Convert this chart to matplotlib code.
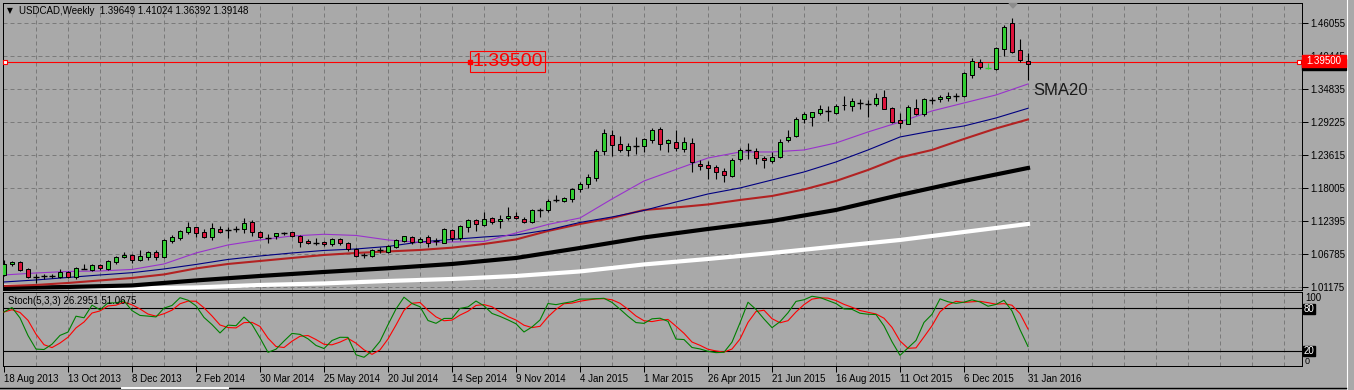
import numpy as np
import pandas as pd
import matplotlib
matplotlib.use("Agg")
import matplotlib.pyplot as plt
from matplotlib.patches import Rectangle, Polygon
from matplotlib.lines import Line2D

plt.rcParams['font.family'] = ['Liberation Sans', 'DejaVu Sans']

##weekly USDCAD candles, 18 Aug 2013 .. 31 Jan 2016
opens = [1.0322, 1.0509, 1.0543, 1.0424, 1.0288, 1.0305, 1.0305, 1.0288, 1.0373, 1.0288,
         1.0424, 1.0407, 1.0492, 1.0424, 1.0543, 1.0628, 1.0662, 1.0577, 1.0628, 1.0713,
         1.0628, 1.0900, 1.0951, 1.1053, 1.1138, 1.1053, 1.0968, 1.1104, 1.1087, 1.1100,
         1.1104, 1.1223, 1.1053, 1.0951, 1.0985, 1.1036, 1.1053, 1.0985, 1.0900, 1.0866,
         1.0883, 1.0849, 1.0934, 1.0866, 1.0764, 1.0662, 1.0645, 1.0747, 1.0713, 1.0798,
         1.0900, 1.0968, 1.0883, 1.0968, 1.0900, 1.0866, 1.1087, 1.0951, 1.1138, 1.1257,
         1.1172, 1.1291, 1.1240, 1.1291, 1.1325, 1.1274, 1.1223, 1.1427, 1.1427, 1.1597,
         1.1580, 1.1614, 1.1784, 1.1869, 1.1971, 1.2430, 1.2702, 1.2549, 1.2447, 1.2515,
         1.2515, 1.2617, 1.2804, 1.2566, 1.2583, 1.2464, 1.2566, 1.2209, 1.2192, 1.2158,
         1.2090, 1.2005, 1.2294, 1.2447, 1.2430, 1.2311, 1.2260, 1.2328, 1.2617, 1.2685,
         1.2974, 1.3008, 1.3076, 1.3110, 1.3076, 1.3212, 1.3195, 1.3246, 1.3229, 1.3229,
         1.3348, 1.3161, 1.2957, 1.2889, 1.3161, 1.3059, 1.3297, 1.3314, 1.3331, 1.3365,
         1.3365, 1.3722, 1.3943, 1.3841, 1.3824, 1.4164, 1.4606, 1.4147, 1.39649]
highs = [1.0577, 1.0560, 1.0560, 1.0441, 1.0339, 1.0339, 1.0339, 1.0424, 1.0390, 1.0450,
         1.0509, 1.0509, 1.0509, 1.0577, 1.0645, 1.0713, 1.0679, 1.0747, 1.0730, 1.0747,
         1.0934, 1.1002, 1.1087, 1.1223, 1.1145, 1.1104, 1.1206, 1.1155, 1.1138, 1.1155,
         1.1291, 1.1257, 1.1070, 1.1019, 1.1040, 1.1053, 1.1060, 1.1002, 1.0934, 1.0951,
         1.0900, 1.0951, 1.0951, 1.0883, 1.0781, 1.0696, 1.0764, 1.0798, 1.0832, 1.0934,
         1.0990, 1.0985, 1.0968, 1.1002, 1.0951, 1.1121, 1.1104, 1.1172, 1.1274, 1.1274,
         1.1393, 1.1308, 1.1342, 1.1478, 1.1393, 1.1308, 1.1444, 1.1461, 1.1614, 1.1682,
         1.1648, 1.1801, 1.1903, 1.2039, 1.2464, 1.2804, 1.2787, 1.2685, 1.2566, 1.2668,
         1.2651, 1.2821, 1.2838, 1.2634, 1.2787, 1.2668, 1.2651, 1.2277, 1.2260, 1.2192,
         1.2141, 1.2311, 1.2481, 1.2566, 1.2481, 1.2345, 1.2413, 1.2634, 1.2787, 1.3008,
         1.3093, 1.3100, 1.3212, 1.3195, 1.3229, 1.3365, 1.3331, 1.3314, 1.3297, 1.3416,
         1.3467, 1.3178, 1.3076, 1.3212, 1.3314, 1.3331, 1.3348, 1.3382, 1.3433, 1.3416,
         1.3773, 1.4011, 1.3994, 1.3926, 1.4190, 1.4572, 1.4691, 1.4334, 1.41024]
lows = [1.0305, 1.0475, 1.0390, 1.0271, 1.0186, 1.0254, 1.0271, 1.0271, 1.0271, 1.0254,
        1.0418, 1.0390, 1.0407, 1.0407, 1.0509, 1.0611, 1.0526, 1.0560, 1.0577, 1.0577,
        1.0611, 1.0866, 1.0917, 1.1019, 1.0968, 1.0951, 1.0917, 1.1036, 1.0951, 1.1053,
        1.1036, 1.0985, 1.0951, 1.0866, 1.0934, 1.1002, 1.0968, 1.0798, 1.0849, 1.0832,
        1.0815, 1.0815, 1.0832, 1.0730, 1.0628, 1.0611, 1.0628, 1.0696, 1.0696, 1.0781,
        1.0883, 1.0849, 1.0866, 1.0798, 1.0832, 1.0860, 1.0900, 1.0917, 1.1053, 1.1070,
        1.1155, 1.1189, 1.1121, 1.1257, 1.1274, 1.1206, 1.1206, 1.1308, 1.1393, 1.1563,
        1.1563, 1.1563, 1.1733, 1.1801, 1.1920, 1.2362, 1.2345, 1.2413, 1.2345, 1.2379,
        1.2413, 1.2566, 1.2447, 1.2413, 1.2430, 1.2413, 1.2073, 1.2107, 1.1954, 1.1954,
        1.1903, 1.1988, 1.2260, 1.2294, 1.2209, 1.2141, 1.2226, 1.2311, 1.2583, 1.2668,
        1.2906, 1.2855, 1.3042, 1.2940, 1.3059, 1.3127, 1.3110, 1.3144, 1.3008, 1.3195,
        1.3140, 1.2906, 1.2821, 1.2880, 1.3042, 1.3025, 1.3229, 1.3263, 1.3280, 1.3280,
        1.3348, 1.3671, 1.3824, 1.3824, 1.3807, 1.4045, 1.4096, 1.3943, 1.36392]
closes = [1.0509, 1.0543, 1.0407, 1.0288, 1.0290, 1.0305, 1.0303, 1.0373, 1.0288, 1.0441,
          1.0426, 1.0492, 1.0441, 1.0560, 1.0628, 1.0662, 1.0577, 1.0645, 1.0713, 1.0628,
          1.0917, 1.0968, 1.1070, 1.1138, 1.1036, 1.0968, 1.1121, 1.1053, 1.1087, 1.1104,
          1.1206, 1.1053, 1.0968, 1.0951, 1.1036, 1.1036, 1.0985, 1.0883, 1.0866, 1.0866,
          1.0849, 1.0934, 1.0866, 1.0764, 1.0645, 1.0662, 1.0747, 1.0747, 1.0815, 1.0917,
          1.0985, 1.0883, 1.0934, 1.0866, 1.0900, 1.1104, 1.0951, 1.1155, 1.1257, 1.1189,
          1.1274, 1.1223, 1.1274, 1.1325, 1.1291, 1.1223, 1.1427, 1.1427, 1.1580, 1.1597,
          1.1631, 1.1784, 1.1869, 1.1988, 1.2430, 1.2736, 1.2532, 1.2447, 1.2515, 1.2515,
          1.2634, 1.2787, 1.2549, 1.2617, 1.2481, 1.2583, 1.2243, 1.2175, 1.2141, 1.2073,
          1.2022, 1.2277, 1.2447, 1.2447, 1.2311, 1.2277, 1.2328, 1.2583, 1.2668, 1.2974,
          1.3059, 1.3093, 1.3144, 1.3110, 1.3195, 1.3205, 1.3280, 1.3246, 1.3229, 1.3331,
          1.3144, 1.2923, 1.2906, 1.3178, 1.3059, 1.3314, 1.3297, 1.3348, 1.3365, 1.3365,
          1.3756, 1.3960, 1.3858, 1.3841, 1.4181, 1.4538, 1.4113, 1.3977, 1.39148]
lime_bars = [123]

##moving averages read every 4th / 8th week
ma_idx = list(range(0, 129, 4))
ma20 = [1.0322, 1.0356, 1.0382, 1.0390, 1.0416, 1.0509, 1.0696, 1.0832, 1.0917, 1.0985, 1.1014,
        1.0994, 1.0917, 1.0875, 1.0883, 1.0892, 1.1036, 1.1181, 1.1291, 1.1614, 1.1920, 1.2116,
        1.2311, 1.2413, 1.2413, 1.2447, 1.2566, 1.2753, 1.2923, 1.3110, 1.3246, 1.3382, 1.3569]
ma_navy = [1.0203, 1.0237, 1.0280, 1.0322, 1.0361, 1.0424, 1.0501, 1.0586, 1.0645, 1.0696, 1.0739,
           1.0764, 1.0807, 1.0883, 1.0926, 1.0968, 1.1002, 1.1087, 1.1215, 1.1308, 1.1419, 1.1563,
           1.1699, 1.1801, 1.1937, 1.2073, 1.2243, 1.2447, 1.2668, 1.2770, 1.2855, 1.2991, 1.3156]
ma_red = [1.0135, 1.0152, 1.0186, 1.0229, 1.0271, 1.0331, 1.0433, 1.0509, 1.0560, 1.0611, 1.0662,
          1.0696, 1.0722, 1.0747, 1.0786, 1.0849, 1.0926, 1.1070, 1.1189, 1.1291, 1.1427, 1.1470,
          1.1521, 1.1597, 1.1665, 1.1776, 1.1920, 1.2107, 1.2320, 1.2447, 1.2634, 1.2813, 1.2966]
slow_idx = list(range(0, 129, 8))
ma_black = [1.0101, 1.0118, 1.0144, 1.0229, 1.0305, 1.0373, 1.0436, 1.0509, 1.0611, 1.0781,
            1.0960, 1.1104, 1.1240, 1.1427, 1.1682, 1.1920, 1.2141]
ma_white = [1.0127, 1.0118, 1.0093, 1.0110, 1.0152, 1.0178, 1.0220, 1.0254, 1.0305, 1.0382,
            1.0501, 1.0594, 1.0696, 1.0807, 1.0917, 1.1053, 1.1189]

price_ticks = [1.46055, 1.40445, 1.34835, 1.29225, 1.23615, 1.18005, 1.12395, 1.06785, 1.01175]
date_labels = ["18 Aug 2013", "13 Oct 2013", "8 Dec 2013", "2 Feb 2014", "30 Mar 2014",
               "25 May 2014", "20 Jul 2014", "14 Sep 2014", "9 Nov 2014", "4 Jan 2015",
               "1 Mar 2015", "26 Apr 2015", "21 Jun 2015", "16 Aug 2015", "11 Oct 2015",
               "6 Dec 2015", "31 Jan 2016"]
hline_price = 1.39500

W, H = 1354, 390
BG = "#a9a9a9"
GRID = "#7a7a7a"

def fx(x):
    return x / W

def fy(y):
    return 1 - y / H

def box(x0, y0, x1, y1):
    return [fx(x0), fy(y1), (x1 - x0) / W, (y1 - y0) / H]

fig = plt.figure(figsize=(W / 100, H / 100), dpi=100, facecolor=BG)
ax = fig.add_axes(box(3, 3, 1302, 290))
ax2 = fig.add_axes(box(3, 292, 1302, 366))
for a in (ax, ax2):
    a.set_facecolor(BG)
    a.set_xlim(-0.125, 162.25)
    for s in a.spines.values():
        s.set_linewidth(0.72)
        s.set_color("black")
ax.set_ylim(1.00665, 1.49455)
ax2.set_ylim(-0.7, 103.0)

##grid
for gx in range(4, 163, 4):
    ax.axvline(gx, color=GRID, lw=0.72, ls=(0, (4, 3)), zorder=1)
    ax2.axvline(gx, color=GRID, lw=0.72, ls=(0, (4, 3)), zorder=1)
for p in price_ticks:
    ax.axhline(p, color=GRID, lw=0.72, ls=(0, (4, 3)), zorder=1)

##moving averages
ax.plot(slow_idx, ma_white, color="white", lw=3.0, zorder=2)
ax.plot(slow_idx, ma_black, color="black", lw=3.0, zorder=2.1)
ax.plot(ma_idx, ma_red, color="#b22222", lw=1.5, zorder=2.2)
ax.plot(ma_idx, ma_navy, color="#000080", lw=0.8, zorder=2.3)
ax.plot(ma_idx, ma20, color="#9932cc", lw=0.8, zorder=2.4)

##price line
ax.axhline(hline_price, color="red", lw=0.8, zorder=3)
ax.plot([0.1, 161.85], [hline_price, hline_price], "s", ms=3.5, mfc="white", mec="red",
        mew=0.8, clip_on=False, zorder=4)

##candles
o = np.array(opens)
hi = np.array(highs)
lo = np.array(lows)
c = np.array(closes)
x = np.arange(len(o))
up = (c - o) > 0.0004
down = (o - c) > 0.0004
doji = ~(up | down)
wick_col = ["#32cd32" if i in lime_bars else "black" for i in x]
ax.vlines(x, lo, hi, colors=wick_col, lw=0.8, zorder=5)
ax.bar(x[up], (c - o)[up], bottom=o[up], width=0.62, color="#32cd32",
       edgecolor="black", linewidth=0.72, zorder=6)
ax.bar(x[down], (o - c)[down], bottom=c[down], width=0.62, color="#dc143c",
       edgecolor="black", linewidth=0.72, zorder=6)
dcols = [wick_col[i] for i in x[doji]]
ax.hlines(((o + c) / 2)[doji], x[doji] - 0.34, x[doji] + 0.34, colors=dcols, lw=1.0, zorder=6)

##labels in main window
ax.text(58.5, hline_price, "1.39500", fontsize=14, color="red", va="center", ha="left",
        zorder=7, bbox=dict(boxstyle="square,pad=0.12", fc="none", ec="red", lw=0.8))
ax.plot([58.25], [hline_price], "s", ms=2.5, color="red", zorder=8)
ax.text(128.6, 1.3450, "SMA20", fontsize=12, color="#1a1a1a", va="center", ha="left", zorder=7)

ax.set_xticks([])
ax.yaxis.tick_right()
ax.set_yticks(price_ticks)
ax.set_yticklabels([f"{p:.5f}" for p in price_ticks])
ax.tick_params(axis="y", direction="out", length=4, width=0.72, pad=2, labelsize=7)

##stochastic 5,3,3
df = pd.DataFrame({"high": highs, "low": lows, "close": closes})
hh = df["high"].rolling(5, min_periods=1).max()
ll = df["low"].rolling(5, min_periods=1).min()
k = 100 * (df["close"] - ll).rolling(3, min_periods=1).sum() / (hh - ll).rolling(3, min_periods=1).sum()
d = k.rolling(3, min_periods=1).mean()
ax2.axhline(80, color="black", lw=0.8, zorder=2)
ax2.axhline(20, color="black", lw=0.8, zorder=2)
ax2.plot(x, d, color="red", lw=0.8, zorder=3)
ax2.plot(x, k, color="green", lw=0.8, zorder=4)
ax2.set_yticks([])
ax2.set_xticks(list(range(0, 129, 8)))
ax2.set_xticklabels(date_labels)
for t in ax2.get_xticklabels():
    t.set_horizontalalignment("left")
ax2.tick_params(axis="x", direction="out", length=4, width=0.72, pad=2, labelsize=7)

##texts
fig.text(fx(7), fy(11), "\u25bc", fontsize=5.5, va="center", ha="left", family=["DejaVu Sans"])
fig.text(fx(19), fy(11), "USDCAD,Weekly  1.39649 1.41024 1.36392 1.39148", fontsize=7,
         va="center", ha="left")
fig.text(fx(8), fy(301), "Stoch(5,3,3) 26.2951 51.0675", fontsize=7, va="center", ha="left")
fig.text(fx(1305), fy(298), "100", fontsize=7, va="center", ha="left")
fig.text(fx(1305), fy(361), "0", fontsize=6.5, va="center", ha="left")
for val, yy in [("80", 309), ("20", 351)]:
    fig.add_artist(Rectangle((fx(1303), fy(yy + 5)), 12 / W, 10 / H, transform=fig.transFigure,
                             color="black", zorder=5))
    fig.text(fx(1304), fy(yy), val, fontsize=7, color="white", va="center", ha="left", zorder=6)

##price labels on the right axis
fig.add_artist(Rectangle((fx(1302), fy(69.5)), 44 / W, 11 / H, transform=fig.transFigure,
                         color="black", zorder=5))
fig.add_artist(Rectangle((fx(1302), fy(66.5)), 44 / W, 11.5 / H, transform=fig.transFigure,
                         color="red", zorder=5.5))
fig.text(fx(1306), fy(61), "1.39500", fontsize=7, color="white", va="center", ha="left", zorder=6)

##window furniture
fig.add_artist(Polygon([(fx(1009), fy(3.5)), (fx(1017), fy(3.5)), (fx(1013), fy(8))],
                       closed=True, transform=fig.transFigure, color="#8c8c8c", zorder=5))
fig.add_artist(Line2D([fx(1346.5), fx(1346.5)], [0, 1], transform=fig.transFigure,
                      color="white", lw=0.8))
fig.add_artist(Line2D([0, fx(1346)], [fy(388), fy(388)], transform=fig.transFigure,
                      color="black", lw=1.0))
fig.add_artist(Line2D([fx(122), fx(228)], [fy(388), fy(388)], transform=fig.transFigure,
                      color="white", lw=1.4))

fig.savefig("out.png", dpi=100, facecolor=BG)
